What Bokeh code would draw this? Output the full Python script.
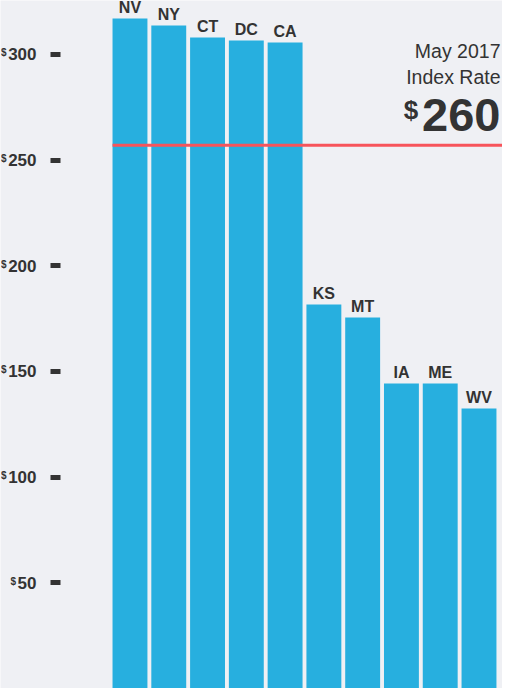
from bokeh.plotting import figure
from bokeh.models import Range1d, LinearAxis, FixedTicker, ColumnDataSource
from bokeh.core.properties import value
from bokeh.embed import file_html
from bokeh.resources import INLINE

# ---- data ----
states = ["NV", "NY", "CT", "DC", "CA", "KS", "MT", "IA", "ME", "WV"]
rates = [317.0, 313.7, 308.0, 306.6, 305.6, 181.7, 175.5, 144.3, 144.3, 132.5]
tick_values = [50, 100, 150, 200, 250, 300]
index_rate_line = 257
index_rate_label = "260"
index_title = ["May 2017", "Index Rate"]

# ---- style ----
BG = "#EFF0F4"
BAR = "#27AFDF"
RED = "#F7545B"
TXT = "#333333"
FONT = "Liberation Sans"

xs = list(range(len(states)))
x_start, x_end = -3.339, 9.606   # frame spans the full figure width
axis_x = -1.792                  # where the value axis is drawn
bar_w = 0.9

p = figure(width=502, height=688, output_backend="svg", toolbar_location=None,
           x_range=Range1d(x_start, x_end), y_range=Range1d(0, 325.5),
           min_border=0,
           background_fill_color=BG, border_fill_color=BG, outline_line_color=None,
           x_axis_type=None, y_axis_type=None)
p.grid.visible = False

src = ColumnDataSource(dict(x=xs, top=rates, state=states))
p.vbar(x="x", top="top", bottom=0, width=bar_w, source=src, color=BAR, line_color=None)

p.text(x="x", y="top", text="state", source=src, y_offset=-11,
       text_align="center", text_baseline="middle",
       text_font=value(FONT), text_font_style="bold", text_font_size="16px",
       text_color=TXT)

# index rate line from the first bar to the right edge
p.segment(x0=[xs[0] - bar_w / 2], x1=[x_end], y0=[index_rate_line], y1=[index_rate_line],
          line_color=RED, line_width=3)

# index rate texts
p.text(x=[x_end, x_end], y=[index_rate_line, index_rate_line], text=index_title,
       x_offset=-2, y_offset=[-94, -68], text_align="right", text_baseline="middle",
       text_font=value(FONT), text_font_size="19.5px", text_color=TXT)
big_fs = 47
p.text(x=[x_end], y=[index_rate_line], text=[index_rate_label],
       x_offset=-2, y_offset=-30, text_align="right", text_baseline="middle",
       text_font=value(FONT), text_font_style="bold", text_font_size=f"{big_fs}px", text_color=TXT)
p.text(x=[x_end], y=[index_rate_line], text=["$"],
       x_offset=-2 - 0.556 * big_fs * len(index_rate_label) - 4, y_offset=-35,
       text_align="right", text_baseline="middle",
       text_font=value(FONT), text_font_style="bold", text_font_size="26px", text_color=TXT)

# y axis, drawn at a fixed location inside the frame
tick_out, standoff, lab_fs = 10, 14, 17
ax = LinearAxis(ticker=FixedTicker(ticks=tick_values), fixed_location=axis_x,
                axis_line_color=None, minor_tick_line_color=None,
                major_tick_in=0, major_tick_out=tick_out,
                major_tick_line_width=5, major_tick_line_color=TXT, major_tick_line_cap="butt",
                major_label_standoff=standoff,
                major_label_text_font=FONT, major_label_text_font_style="bold",
                major_label_text_font_size=f"{lab_fs}px", major_label_text_color=TXT)
p.add_layout(ax, "left")

# small superscript dollar signs before the tick labels
p.text(x=[axis_x] * len(tick_values), y=tick_values, text=["$"] * len(tick_values),
       x_offset=[-(tick_out + standoff + 0.556 * lab_fs * len(str(v)) + 1.5) for v in tick_values],
       y_offset=-1.5, text_align="right", text_baseline="middle",
       text_font=value(FONT), text_font_style="bold", text_font_size="10px", text_color=TXT)

open("out.html", "w").write(file_html(p, INLINE))
